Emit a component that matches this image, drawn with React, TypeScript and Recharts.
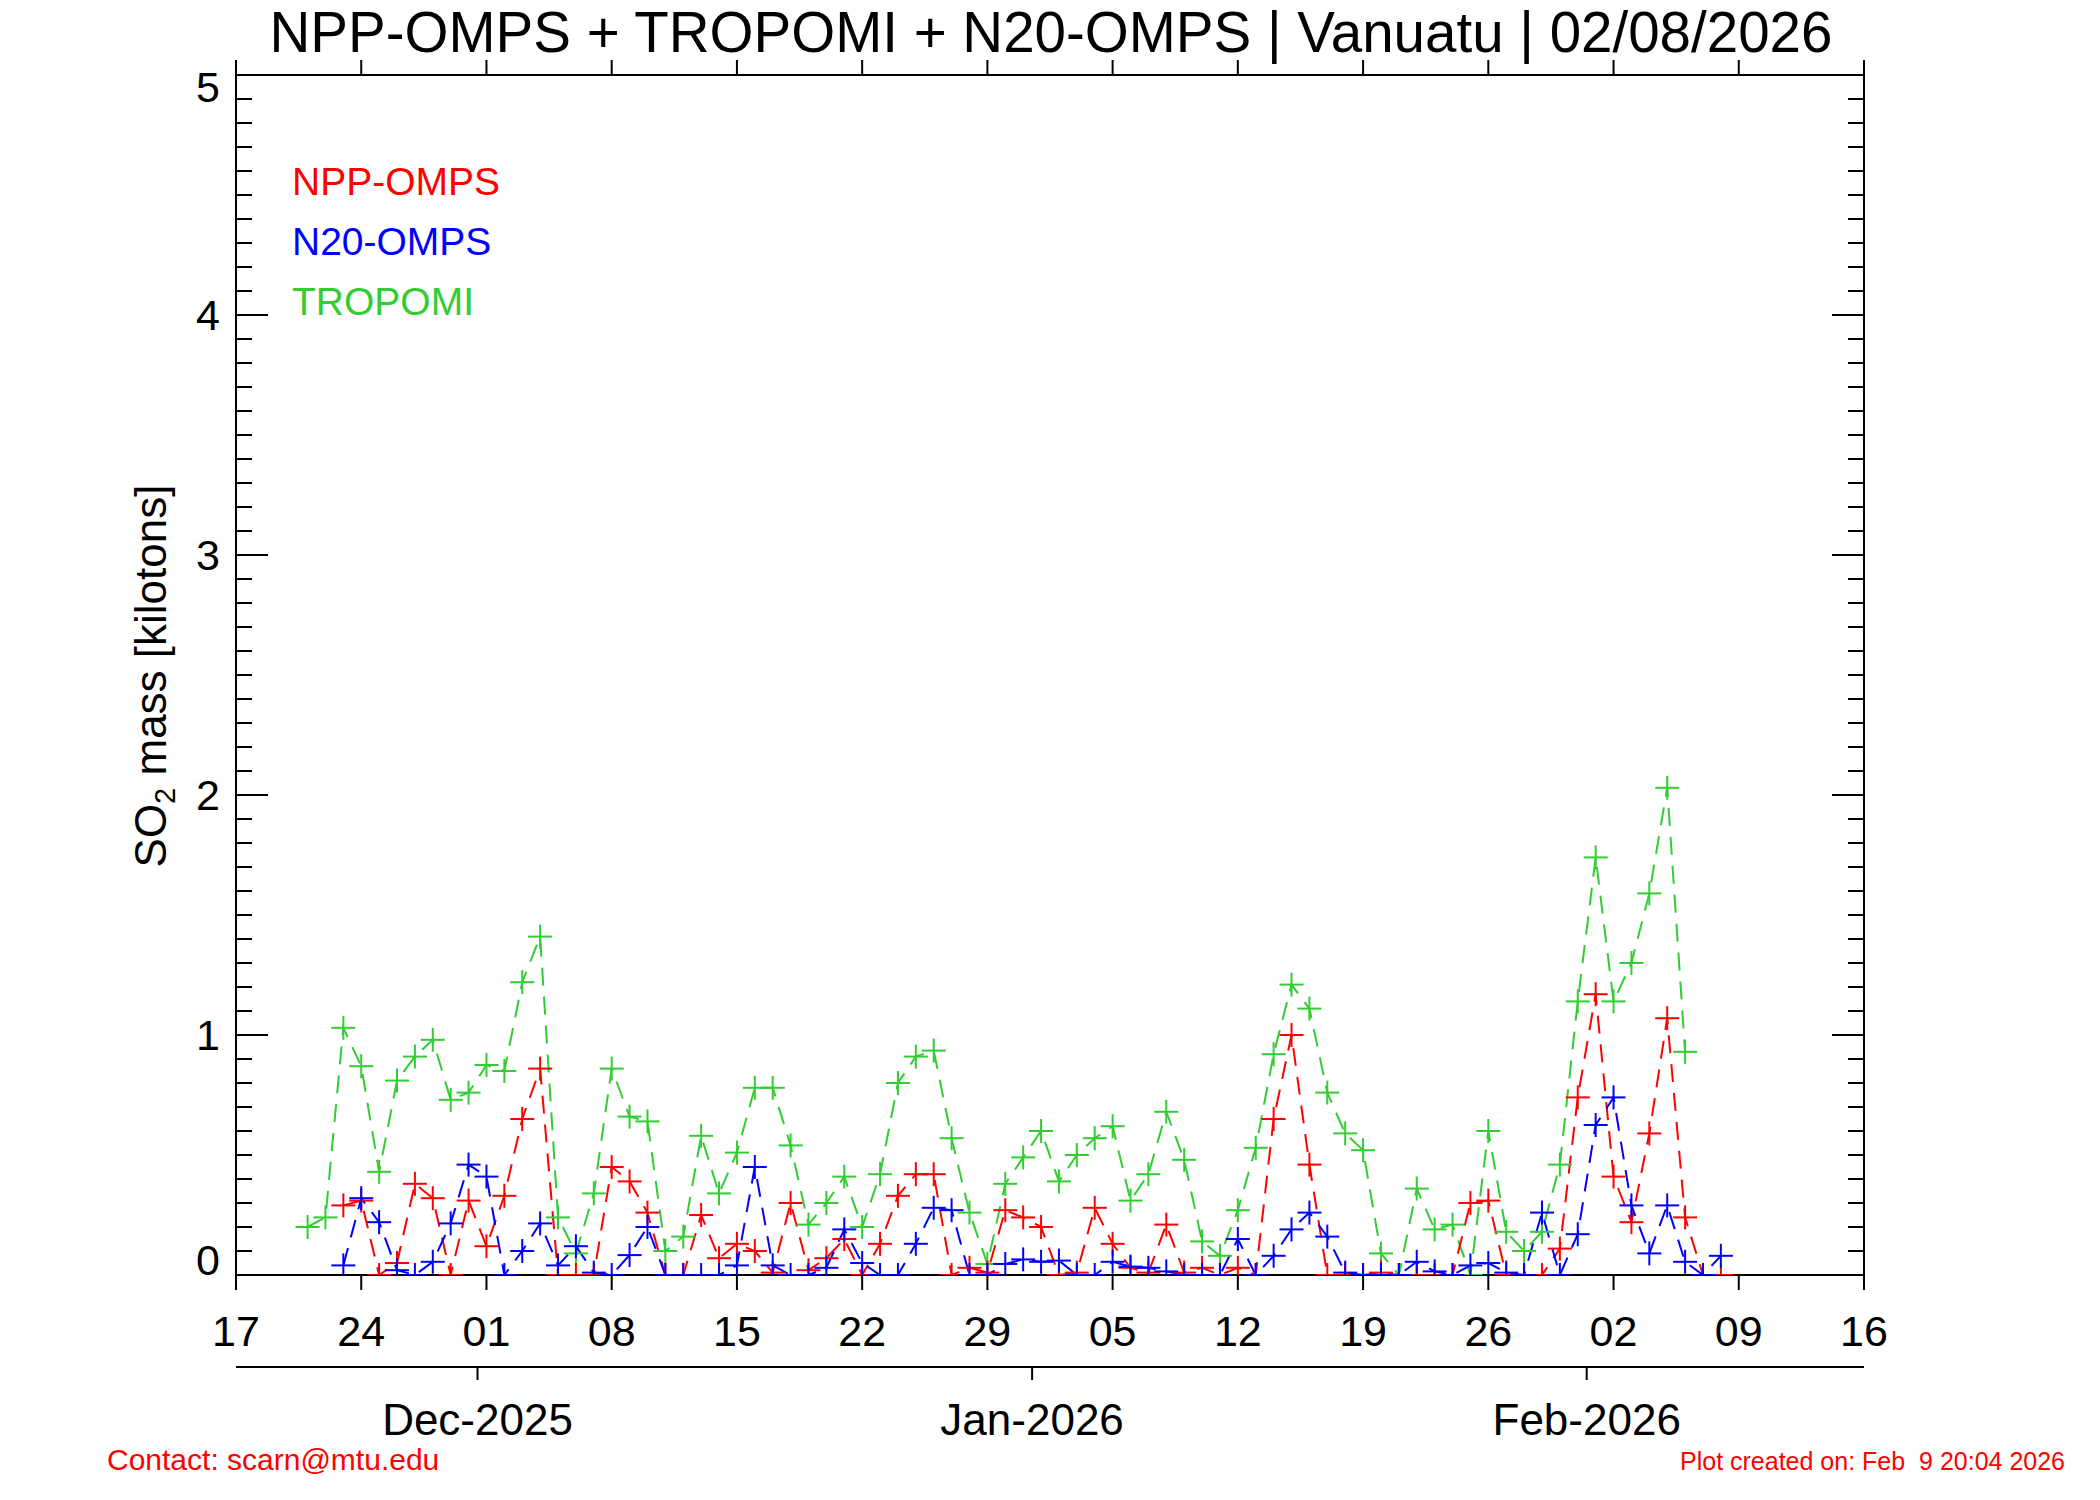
import React from 'react';
import { ComposedChart, Line, XAxis, YAxis } from 'recharts';

// daily SO2 mass [kt], one value per day starting 2025-11-21
const AXIS_START = Date.UTC(2025, 10, 17);
const FIRST_DATE = Date.UTC(2025, 10, 21);
const DAY_MS = 86400000;

const nppOmps = [
  null, null, 0.29, 0.31, 0, 0.05, 0.38, 0.32, 0, 0.31, 0.12, 0.33,
  0.65, 0.86, 0, 0, 0, 0.45, 0.39, 0.26, 0, 0,
  0.25, 0.07, 0.13, 0.1, 0.01, 0.3, 0.02, 0.07, 0.15, 0,
  0.13, 0.33, 0.42, 0.42, 0, 0.03, 0.01, 0.27, 0.24, 0.2,
  0, 0.01, 0.28, 0.13, 0.03, 0.01, 0.21, 0.01, 0.03, 0,
  0.03, 0, 0.65, 1.0, 0.46, 0, 0, 0, 0.01, 0,
  0, 0, 0, 0.3, 0.31, 0, 0, 0, 0.11, 0.74,
  1.17, 0.41, 0.22, 0.59, 1.07, 0.24, 0, 0,
];

const n20Omps = [
  null, null, 0.04, 0.32, 0.22, 0.02, 0, 0.055, 0.215, 0.46, 0.41, 0,
  0.1, 0.215, 0.04, 0.12, 0.01, 0, 0.083, 0.2, 0, 0,
  0, 0, 0.04, 0.45, 0.04, 0, 0, 0.03, 0.19, 0.05,
  0, 0, 0.13, 0.28, 0.27, 0, 0, 0.046, 0.065, 0.055,
  0.06, 0, 0, 0.055, 0.035, 0.03, 0.015, 0, 0, 0,
  0.15, 0, 0.08, 0.19, 0.26, 0.16, 0.01, 0, 0, 0,
  0.055, 0.015, 0, 0.04, 0.05, 0.01, 0, 0.26, 0, 0.17,
  0.625, 0.74, 0.29, 0.09, 0.29, 0.055, 0, 0.08,
];

const tropomi = [
  0.2, 0.24, 1.03, 0.87, 0.43, 0.81, 0.91, 0.98, 0.73, 0.76, 0.875, 0.85,
  1.22, 1.41, 0.24, 0.09, 0.34, 0.86, 0.66, 0.64, 0.1, 0.16,
  0.58, 0.34, 0.51, 0.78, 0.78, 0.54, 0.21, 0.3, 0.41, 0.2,
  0.42, 0.8, 0.91, 0.935, 0.57, 0.26, 0.046, 0.38, 0.49, 0.6,
  0.39, 0.5, 0.57, 0.62, 0.31, 0.42, 0.68, 0.48, 0.14, 0.08,
  0.27, 0.53, 0.92, 1.21, 1.11, 0.76, 0.59, 0.52, 0.09, 0,
  0.36, 0.19, 0.21, 0, 0.6, 0.18, 0.1, 0.18, 0.46, 1.14,
  1.74, 1.14, 1.3, 1.59, 2.03, 0.93, null, null,
];

const dayTickLabels = ['17', '24', '01', '08', '15', '22', '29', '05', '12', '19', '26', '02', '09', '16'];
const monthLabels = ['Dec-2025', 'Jan-2026', 'Feb-2026'];
const monthStarts = [Date.UTC(2025, 11, 1), Date.UTC(2026, 0, 1), Date.UTC(2026, 1, 1)];
const yMajorLabels = ['0', '1', '2', '3', '4', '5'];

const RED = '#ff0000';
const BLUE = '#0000ff';
const GREEN = '#32cd32';
const FONT = '"Liberation Sans", Arial, Helvetica, sans-serif';

const firstDay = (FIRST_DATE - AXIS_START) / DAY_MS;
const data = tropomi.map((_, i) => ({
  day: firstDay + i,
  npp: nppOmps[i],
  n20: n20Omps[i],
  tropomi: tropomi[i],
}));

const dayTicks = dayTickLabels.map((_, i) => i * 7);
const xMax = dayTicks[dayTicks.length - 1];
const monthTicks = monthStarts.map((t) => (t - AXIS_START) / DAY_MS - 0.5);
const yTicks = Array.from({ length: 51 }, (_, i) => i / 10);

const isMajor = (v: number) => Math.abs(v - Math.round(v)) < 1e-6;

const makePlus = (color: string) => (props: any) => {
  const { cx, cy, index } = props;
  if (cx == null || cy == null || props.value == null) return <g key={`p-${index}`} />;
  return (
    <g key={`p-${index}`} stroke={color} strokeWidth={2} strokeDasharray="none">
      <line x1={cx - 12} x2={cx + 12} y1={cy} y2={cy} />
      <line x1={cx} x2={cx} y1={cy - 12} y2={cy + 12} />
    </g>
  );
};

const LeftTick = ({ x, y, payload }: any) => {
  const v = payload.value;
  const major = isMajor(v);
  const r = Math.round(v);
  // IDL pushes the end labels inside the axis range
  const dy = r === 5 ? 27 : r === 0 ? 0 : 15;
  return (
    <g>
      <line x1={x} x2={x + (major ? 32 : 16)} y1={y} y2={y} stroke="#000" strokeWidth={2} />
      {major && (
        <text x={x - 16} y={y + dy} textAnchor="end" fontSize={43} fontFamily={FONT} fill="#000">
          {yMajorLabels[r]}
        </text>
      )}
    </g>
  );
};

const RightTick = ({ x, y, payload }: any) => {
  const major = isMajor(payload.value);
  return <line x1={x} x2={x - (major ? 32 : 16)} y1={y} y2={y} stroke="#000" strokeWidth={2} />;
};

const DayTick = ({ x, y, payload }: any) => (
  <text x={x} y={y + 56} textAnchor="middle" fontSize={43} fontFamily={FONT} fill="#000">
    {dayTickLabels[Math.round(payload.value / 7)]}
  </text>
);

const MonthTick = ({ x, y, index }: any) => (
  <text x={x} y={y + 55} textAnchor="middle" fontSize={44} fontFamily={FONT} fill="#000">
    {monthLabels[index]}
  </text>
);

const axisStroke = { stroke: '#000', strokeWidth: 2 };

export default function App() {
  return (
    <div
      style={{
        position: 'absolute',
        left: 0,
        top: 0,
        width: 2100,
        height: 1500,
        background: '#fff',
        fontFamily: FONT,
      }}
    >
      <ComposedChart
        width={2100}
        height={1500}
        data={data}
        margin={{ top: 74, right: 235, left: 235, bottom: 43 }}
      >
        <XAxis
          xAxisId="day"
          dataKey="day"
          type="number"
          domain={[0, xMax]}
          ticks={dayTicks}
          interval={0}
          allowDataOverflow
          height={92}
          tickSize={15}
          tickMargin={0}
          axisLine={axisStroke}
          tickLine={axisStroke}
          tick={<DayTick />}
        />
        <XAxis
          xAxisId="month"
          dataKey="day"
          type="number"
          domain={[0, xMax]}
          ticks={monthTicks}
          interval={0}
          allowDataOverflow
          height={90}
          tickSize={13}
          tickMargin={0}
          axisLine={axisStroke}
          tickLine={axisStroke}
          tick={<MonthTick />}
        />
        <XAxis
          xAxisId="top"
          orientation="top"
          dataKey="day"
          type="number"
          domain={[0, xMax]}
          ticks={dayTicks}
          interval={0}
          allowDataOverflow
          height={1}
          tickSize={15}
          tickMargin={0}
          axisLine={axisStroke}
          tickLine={axisStroke}
          tick={() => <g />}
        />
        <YAxis
          yAxisId="left"
          type="number"
          domain={[0, 5]}
          ticks={yTicks}
          interval={0}
          allowDataOverflow
          width={1}
          tickSize={0}
          tickMargin={0}
          axisLine={axisStroke}
          tickLine={false}
          tick={<LeftTick />}
        />
        <YAxis
          yAxisId="right"
          orientation="right"
          type="number"
          domain={[0, 5]}
          ticks={yTicks}
          interval={0}
          allowDataOverflow
          width={1}
          tickSize={0}
          tickMargin={0}
          axisLine={axisStroke}
          tickLine={false}
          tick={<RightTick />}
        />
        <Line
          xAxisId="day"
          yAxisId="left"
          type="linear"
          dataKey="tropomi"
          stroke={GREEN}
          strokeWidth={2}
          strokeDasharray="18 11"
          dot={makePlus(GREEN)}
          activeDot={false}
          isAnimationActive={false}
        />
        <Line
          xAxisId="day"
          yAxisId="left"
          type="linear"
          dataKey="npp"
          stroke={RED}
          strokeWidth={2}
          strokeDasharray="18 11"
          dot={makePlus(RED)}
          activeDot={false}
          isAnimationActive={false}
        />
        <Line
          xAxisId="day"
          yAxisId="left"
          type="linear"
          dataKey="n20"
          stroke={BLUE}
          strokeWidth={2}
          strokeDasharray="18 11"
          dot={makePlus(BLUE)}
          activeDot={false}
          isAnimationActive={false}
        />
      </ComposedChart>
      <svg
        width={2100}
        height={1500}
        style={{ position: 'absolute', left: 0, top: 0, pointerEvents: 'none' }}
        fontFamily={FONT}
      >
        <text x={1051} y={52} textAnchor="middle" fontSize={56.5} fill="#000">
          NPP-OMPS + TROPOMI + N20-OMPS | Vanuatu | 02/08/2026
        </text>
        <text x={292} y={195} fontSize={39} fill={RED}>NPP-OMPS</text>
        <text x={292} y={255} fontSize={39} fill={BLUE}>N20-OMPS</text>
        <text x={292} y={315} fontSize={39} fill={GREEN}>TROPOMI</text>
        <text transform="translate(166,676) rotate(-90)" textAnchor="middle" fontSize={44} fill="#000">
          SO
          <tspan fontSize={29} dy={9}>2</tspan>
          <tspan dy={-9}> mass [kilotons]</tspan>
        </text>
        <text x={107} y={1470} fontSize={30} fill={RED}>Contact: scarn@mtu.edu</text>
        <text x={2065} y={1470} fontSize={25} fill={RED} textAnchor="end" style={{ whiteSpace: 'pre' }}>
          {'Plot created on: Feb  9 20:04 2026'}
        </text>
      </svg>
    </div>
  );
}
